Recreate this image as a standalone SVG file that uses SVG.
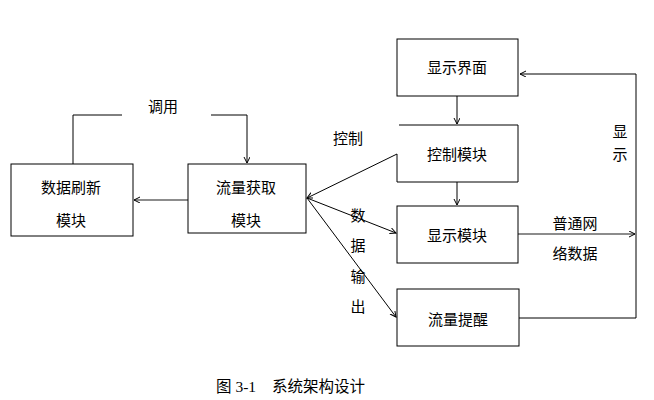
<svg xmlns="http://www.w3.org/2000/svg" width="654" height="400" viewBox="0 0 654 400">
<defs>
<style>
.box{fill:#fff;stroke:#000;stroke-width:1}
.ln{fill:none;stroke:#000;stroke-width:1}
.gl{fill:none;stroke:#666;stroke-width:1.5}
.t{font-family:"Noto Sans CJK SC","Noto Sans",sans-serif;font-size:15px;fill:#000;text-anchor:middle}
.c{font-family:"Liberation Serif","Noto Sans CJK SC",serif;font-size:15.5px;fill:#000}
</style>
<marker id="ar" markerWidth="8" markerHeight="8" refX="6" refY="3" orient="auto" markerUnits="userSpaceOnUse">
<path d="M0,0 L6,3 L0,6" fill="none" stroke="#000" stroke-width="1"/>
</marker>
</defs>
<rect width="654" height="400" fill="#fff"/>
<g id="connectors">
<path class="ln" d="M73,164 V115 H122"/>
<path class="ln" d="M211,115 H247 V163" marker-end="url(#ar)"/>
<line class="gl" x1="188" y1="200" x2="134" y2="200" marker-end="url(#ar)"/>
<line class="ln" x1="457" y1="96" x2="457" y2="124" marker-end="url(#ar)"/>
<line class="ln" x1="457" y1="182" x2="457" y2="205" marker-end="url(#ar)"/>
<line class="ln" x1="397" y1="154" x2="307" y2="198" marker-end="url(#ar)"/>
<line class="ln" x1="307" y1="198" x2="396" y2="233" marker-end="url(#ar)"/>
<line class="ln" x1="307" y1="198" x2="396" y2="317" marker-end="url(#ar)"/>
<line class="gl" x1="518" y1="234" x2="635" y2="234" marker-end="url(#ar)"/>
<path class="ln" d="M519,318 H636 V74 H520" marker-end="url(#ar)"/>
<text class="t" x="163" y="112">调用</text>
<text class="t" x="348" y="144">控制</text>
<text class="t" x="620" y="137">显</text>
<text class="t" x="620" y="160">示</text>
<text class="t" x="358" y="221">数</text>
<text class="t" x="358" y="251">据</text>
<text class="t" x="358" y="282">输</text>
<text class="t" x="358" y="312">出</text>
<text class="t" x="575" y="229">普通网</text>
<text class="t" x="575" y="259">络数据</text>
</g>
<g id="node-refresh">
<rect class="box" x="11" y="164" width="122" height="72"/>
<text class="t" x="71" y="193">数据刷新</text>
<text class="t" x="71" y="226">模块</text>
</g>
<g id="node-flow">
<rect class="box" x="188" y="164" width="118" height="69"/>
<text class="t" x="246" y="193">流量获取</text>
<text class="t" x="246" y="226">模块</text>
</g>
<g id="node-ui">
<rect class="box" x="397" y="39" width="121" height="57"/>
<text class="t" x="457" y="73">显示界面</text>
</g>
<g id="node-control">
<path class="ln" d="M397,154 V182 H518 V125 H399"/>
<text class="t" x="457" y="160">控制模块</text>
</g>
<g id="node-display">
<rect class="box" x="397" y="206" width="121" height="57"/>
<text class="t" x="457" y="241">显示模块</text>
</g>
<g id="node-remind">
<rect class="box" x="397" y="289" width="122" height="57"/>
<text class="t" x="458" y="325">流量提醒</text>
</g>
<g id="caption">
<text class="c" x="216" y="392">图 3-1</text>
<text class="c" x="272" y="392">系统架构设计</text>
</g>
</svg>
